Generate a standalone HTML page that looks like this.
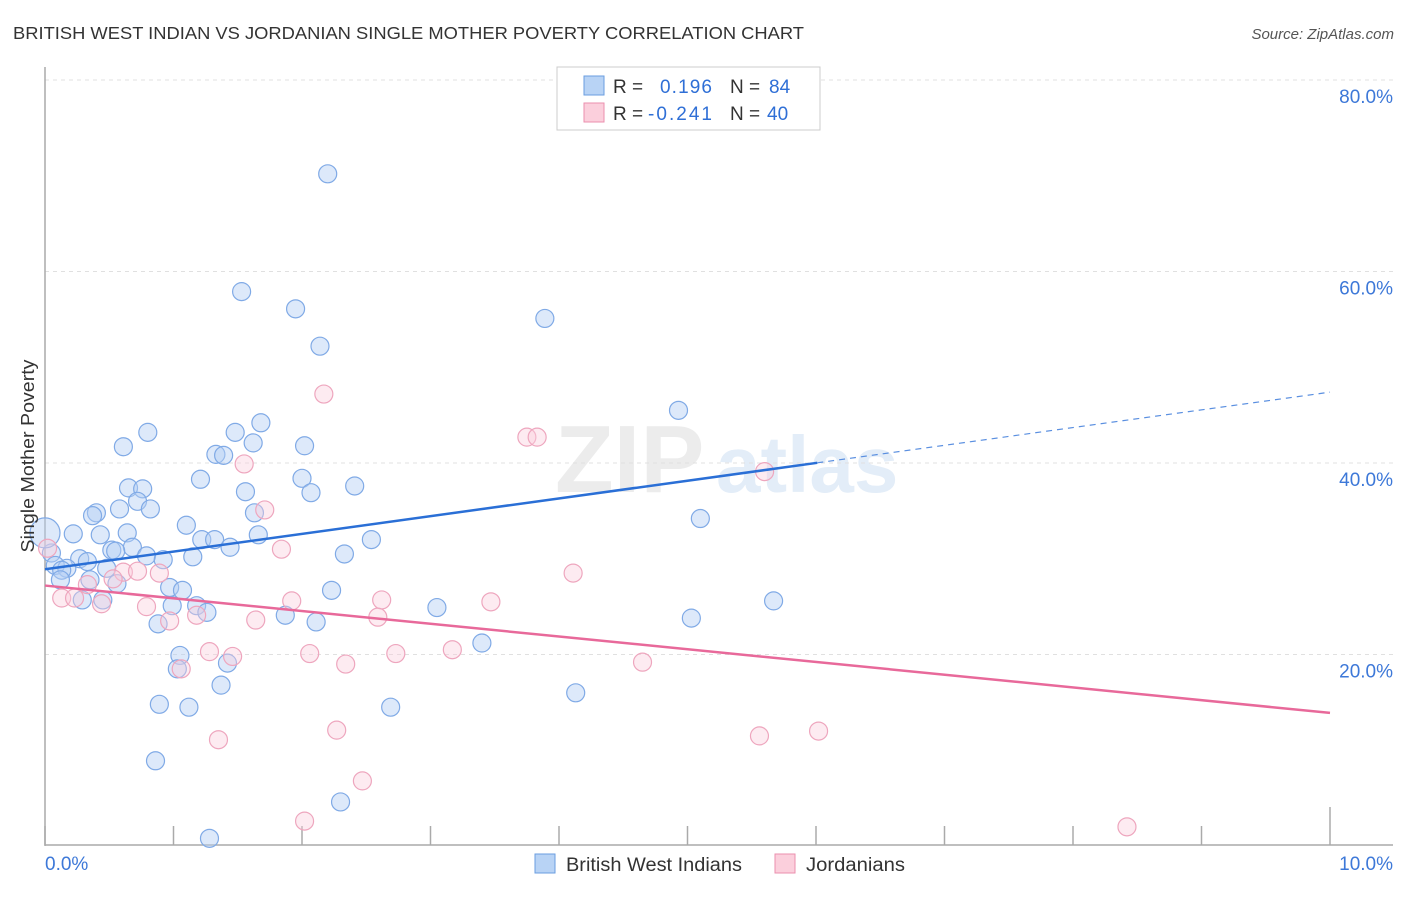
<!DOCTYPE html>
<html><head><meta charset="utf-8"><style>
body{margin:0;background:#fff;font-family:"Liberation Sans",sans-serif}
svg text{font-family:"Liberation Sans",sans-serif}
</style></head><body>
<svg id="chart" width="1406" height="892" viewBox="0 0 1406 892" xmlns="http://www.w3.org/2000/svg">
<text x="13" y="39" font-size="17.5" fill="#333" textLength="791" lengthAdjust="spacingAndGlyphs">BRITISH WEST INDIAN VS JORDANIAN SINGLE MOTHER POVERTY CORRELATION CHART</text>
<text x="1394" y="39" font-size="15" fill="#555" text-anchor="end" font-style="italic">Source: ZipAtlas.com</text>
<g>
<text x="555" y="492" font-size="96" fill="#ececec" font-family="Liberation Serif" font-weight="bold">ZIP</text>
<text x="716" y="492" font-size="80" fill="#e3edf8" font-weight="bold">atlas</text>
</g>
<g id="grid"></g>
<g id="axes"></g>
<g id="marks"></g>
<text transform="translate(34,456) rotate(-90)" font-size="18" fill="#333" text-anchor="middle" textLength="193" lengthAdjust="spacingAndGlyphs">Single Mother Poverty</text>
<g>
<rect x="557" y="67" width="263" height="63" fill="#fff" stroke="#ccc"/>
<rect x="584" y="76" width="20" height="19" fill="#b8d3f5" stroke="#6a9ee0"/>
<rect x="584" y="103" width="20" height="19" fill="#fbcfdc" stroke="#eb8fae"/>
<text x="613" y="93" font-size="19" fill="#333">R =</text>
<text x="660" y="93" font-size="19" fill="#2f6fd6" textLength="52">0.196</text>
<text x="730" y="93" font-size="19" fill="#333">N =</text>
<text x="769" y="93" font-size="19" fill="#2f6fd6">84</text>
<text x="613" y="120" font-size="19" fill="#333">R =</text>
<text x="648" y="120" font-size="19" fill="#2f6fd6" textLength="64">-0.241</text>
<text x="730" y="120" font-size="19" fill="#333">N =</text>
<text x="767" y="120" font-size="19" fill="#2f6fd6">40</text>
</g>
<g>
<rect x="535" y="854" width="20" height="19" fill="#b8d3f5" stroke="#6a9ee0"/>
<text x="566" y="871" font-size="19" fill="#333" textLength="176" lengthAdjust="spacingAndGlyphs">British West Indians</text>
<rect x="775" y="854" width="20" height="19" fill="#fbcfdc" stroke="#eb8fae"/>
<text x="806" y="871" font-size="19" fill="#333" textLength="99" lengthAdjust="spacingAndGlyphs">Jordanians</text>
</g>
</svg>
<script>
const yTicks=[20,40,60,80];
const yTickLabels=["20.0%","40.0%","60.0%","80.0%"];
const xTickVals=[0,1,2,3,4,5,6,7,8,9,10];
const xEndLabels=["0.0%","10.0%"];
const blueX=[2.20,1.53,1.95,3.89,2.14,4.93,1.68,0.80,1.48,0.61,2.02,1.62,1.33,1.39,1.21,2.00,2.41,0.65,0.76,1.56,2.07,0.72,0.58,0.82,0.40,0.37,1.63,5.10,1.10,0.64,0.22,0.43,1.66,1.22,1.32,2.54,0.68,1.44,0.52,0.55,0.05,0.79,2.33,1.15,0.92,0.27,0.33,0.08,0.17,0.13,0.48,0.56,0.97,1.07,0.12,0.35,2.23,1.18,0.99,0.29,0.45,1.26,1.87,3.05,5.67,0.88,2.11,5.03,3.40,1.05,1.03,1.42,1.37,4.13,0.89,1.12,2.69,0.86,2.30,1.28,0.00];
const blueY=[70.2,57.9,56.1,55.1,52.2,45.5,44.2,43.2,43.2,41.7,41.8,42.1,40.9,40.8,38.3,38.4,37.6,37.4,37.3,37.0,36.9,36.0,35.2,35.2,34.8,34.5,34.8,34.2,33.5,32.7,32.6,32.5,32.5,32.0,32.0,32.0,31.2,31.2,30.9,30.8,30.6,30.3,30.5,30.2,29.9,30.0,29.7,29.3,29.0,28.8,29.0,27.4,27.0,26.7,27.8,27.8,26.7,25.1,25.1,25.7,25.7,24.4,24.1,24.9,25.6,23.2,23.4,23.8,21.2,19.9,18.5,19.1,16.8,16.0,14.8,14.5,14.5,8.9,4.6,0.8,32.7];
const pinkX=[2.17,3.75,3.83,1.55,5.60,1.71,1.84,0.02,0.89,4.11,0.61,0.72,0.53,0.33,0.13,0.23,0.44,1.92,2.62,3.47,0.79,1.18,0.97,1.64,2.59,1.28,1.46,2.06,2.73,3.17,1.06,2.34,4.65,2.27,1.35,5.56,6.02,2.47,2.02,8.42];
const pinkY=[47.2,42.7,42.7,39.9,39.1,35.1,31.0,31.1,28.5,28.5,28.6,28.7,27.9,27.3,25.9,25.9,25.3,25.6,25.7,25.5,25.0,24.1,23.5,23.6,23.9,20.3,19.8,20.1,20.1,20.5,18.5,19.0,19.2,12.1,11.1,11.5,12.0,6.8,2.6,2.0];
const blueTrend=[28.9,47.4];
const blueSolidEnd=6.01;
const pinkTrend=[27.2,13.9];

const NS="http://www.w3.org/2000/svg";
const X=v=>45+v*128.5;
const Y=v=>846-v*9.575;
function mk(tag,attrs,parent){const e=document.createElementNS(NS,tag);for(const k in attrs)e.setAttribute(k,attrs[k]);parent.appendChild(e);return e;}
const grid=document.getElementById('grid'),axes=document.getElementById('axes'),marks=document.getElementById('marks');
yTicks.forEach((t,i)=>{
  const l=mk('line',{x1:45,x2:1393,y1:Y(t),y2:Y(t),stroke:'#e0e0e0','stroke-dasharray':'4,4'},grid);
  
  
  const tx=mk('text',{x:1393,y:Y(t)+23,'font-size':19,fill:'#3d78d8','text-anchor':'end'},axes);
  tx.textContent=yTickLabels[i];
  
  
});
let a=mk('line',{x1:45,x2:45,y1:67,y2:846,stroke:'#aaa','stroke-width':1.5},axes);


a=mk('line',{x1:45,x2:1393,y1:845,y2:845,stroke:'#aaa','stroke-width':1.5},axes);


xTickVals.forEach(v=>{
  const t=mk('line',{x1:X(v),x2:X(v),y1:v===10?807:826,y2:845,stroke:'#aaa','stroke-width':1.5},axes);
  
  
});
[[0,'start',45],[10,'end',1393]].forEach((d,i)=>{
  const tx=mk('text',{x:d[2],y:870,'font-size':19,fill:'#3d78d8','text-anchor':d[1]},axes);
  tx.textContent=xEndLabels[i];
  
  
});
blueX.forEach((x,i)=>{
  const c=mk('circle',{cx:X(x),cy:Y(blueY[i]),r:i===blueX.length-1?15:9,fill:'rgba(180,207,244,0.45)',stroke:'#80aae6','stroke-width':1.2},marks);
  
  
});
pinkX.forEach((x,i)=>{
  const c=mk('circle',{cx:X(x),cy:Y(pinkY[i]),r:9,fill:'rgba(249,205,219,0.4)',stroke:'#eea6be','stroke-width':1.2},marks);
  
  
});
const bAt=v=>blueTrend[0]+(blueTrend[1]-blueTrend[0])*v/10;
let l=mk('line',{x1:X(0),y1:Y(bAt(0)),x2:X(blueSolidEnd),y2:Y(bAt(blueSolidEnd)),stroke:'#2a6fd6','stroke-width':2.5},marks);


l=mk('line',{x1:X(blueSolidEnd),y1:Y(bAt(blueSolidEnd)),x2:X(10),y2:Y(bAt(10)),stroke:'#5a8fe0','stroke-width':1.2,'stroke-dasharray':'6,5'},marks);


l=mk('line',{x1:X(0),y1:Y(pinkTrend[0]),x2:X(10),y2:Y(pinkTrend[1]),stroke:'#e8699a','stroke-width':2.5},marks);


</script>
</body></html>
